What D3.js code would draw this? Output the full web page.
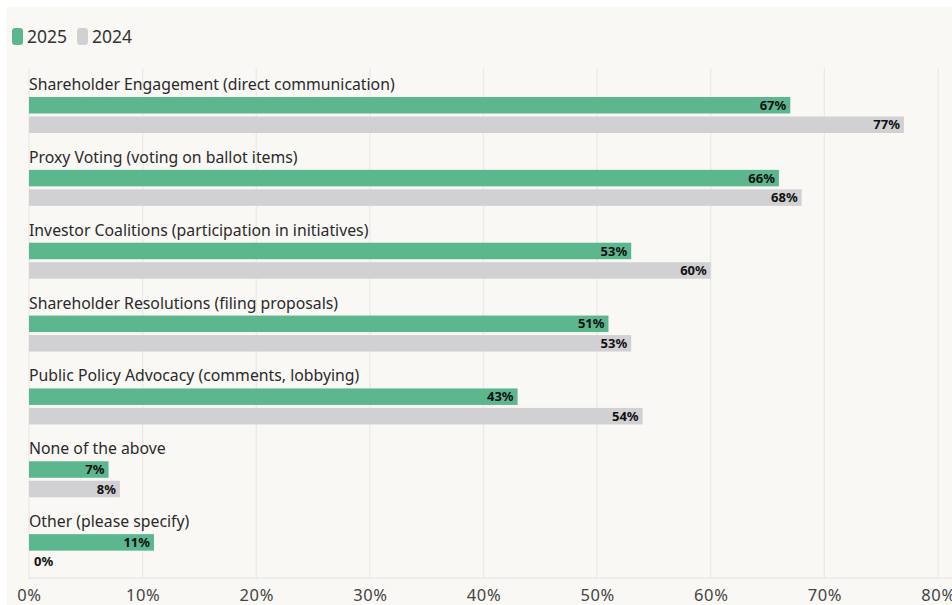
<!DOCTYPE html>
<html>
<head>
<meta charset="utf-8">
<script src="https://cdn.jsdelivr.net/npm/d3@7"></script>
<style>
  html, body { margin: 0; padding: 0; background: #ffffff; }
  svg { display: block; }
  text { font-family: "Noto Sans", "Open Sans", sans-serif; }
</style>
</head>
<body>
<svg id="chart" width="952" height="605"></svg>
<script>
const categories = [
  "Shareholder Engagement (direct communication)",
  "Proxy Voting (voting on ballot items)",
  "Investor Coalitions (participation in initiatives)",
  "Shareholder Resolutions (filing proposals)",
  "Public Policy Advocacy (comments, lobbying)",
  "None of the above",
  "Other (please specify)"
];
const values2025 = [67, 66, 53, 51, 43, 7, 11];
const values2024 = [77, 68, 60, 53, 54, 8, 0];
const seriesNames = ["2025", "2024"];
const tickValues = [0, 10, 20, 30, 40, 50, 60, 70, 80];

const colors = { "2025": "#5db78e", "2024": "#d1d1d3" };

const svg = d3.select("#chart");
const W = 952, H = 605;

// card background
svg.append("rect").attr("x", 7).attr("y", 7).attr("width", W - 7).attr("height", H - 7)
  .attr("fill", "#f9f8f5");

const x = d3.scaleLinear().domain([0, 80]).range([29, 938]);
const y = d3.scaleBand().domain(categories).range([70, 580]);

// vertical gridlines
svg.append("g").selectAll("line").data(tickValues).join("line")
  .attr("x1", d => x(d)).attr("x2", d => x(d))
  .attr("y1", 68).attr("y2", 578)
  .attr("stroke", "#ebe9e5").attr("stroke-width", 1.2);

// baseline
svg.append("line").attr("x1", x(0)).attr("x2", W).attr("y1", 578).attr("y2", 578)
  .attr("stroke", "#e6e4e0").attr("stroke-width", 1.2);

// x axis tick labels
const xAxis = d3.axisBottom(x).tickValues(tickValues).tickFormat(d => d + "%").tickSize(0);
const ax = svg.append("g").attr("transform", "translate(0,586)").call(xAxis);
ax.select(".domain").remove();
ax.selectAll("text").attr("font-size", 16.5).attr("fill", "#444").attr("dy", "0.72em")
  .attr("letter-spacing", 0.6)
  .style("font-family", "'Noto Sans', sans-serif");

// groups
const rows = categories.map((c, i) => ({ c, v: [values2025[i], values2024[i]] }));
const g = svg.append("g").selectAll("g").data(rows).join("g")
  .attr("transform", d => `translate(0,${y(d.c)})`);

g.append("text").attr("x", x(0)).attr("y", 20).text(d => d.c)
  .attr("font-size", 15.8).attr("fill", "#2a2a2a");

const barH = 16.5;
const offsets = [27, 46.5];
seriesNames.forEach((s, k) => {
  g.append("rect")
    .attr("x", x(0)).attr("y", offsets[k])
    .attr("width", d => x(d.v[k]) - x(0)).attr("height", barH)
    .attr("fill", colors[s]);
  g.append("text")
    .attr("y", offsets[k] + barH / 2).attr("dy", "0.35em")
    .attr("font-size", 13).attr("font-weight", 700).attr("fill", "#111")
    .attr("x", d => d.v[k] === 0 ? x(0) + 5 : x(d.v[k]) - 4)
    .attr("text-anchor", d => d.v[k] === 0 ? "start" : "end")
    .text(d => d.v[k] + "%");
});

// legend
const leg = svg.append("g").attr("transform", "translate(12,28)");
const legX = [0, 65];
seriesNames.forEach((s, k) => {
  leg.append("rect").attr("x", legX[k]).attr("y", 0).attr("width", 11).attr("height", 17)
    .attr("rx", 3).attr("fill", colors[s]);
  leg.append("text").attr("x", legX[k] + 15).attr("y", 15).text(s)
    .attr("font-size", 17.5).attr("fill", "#333");
});
</script>
</body>
</html>
